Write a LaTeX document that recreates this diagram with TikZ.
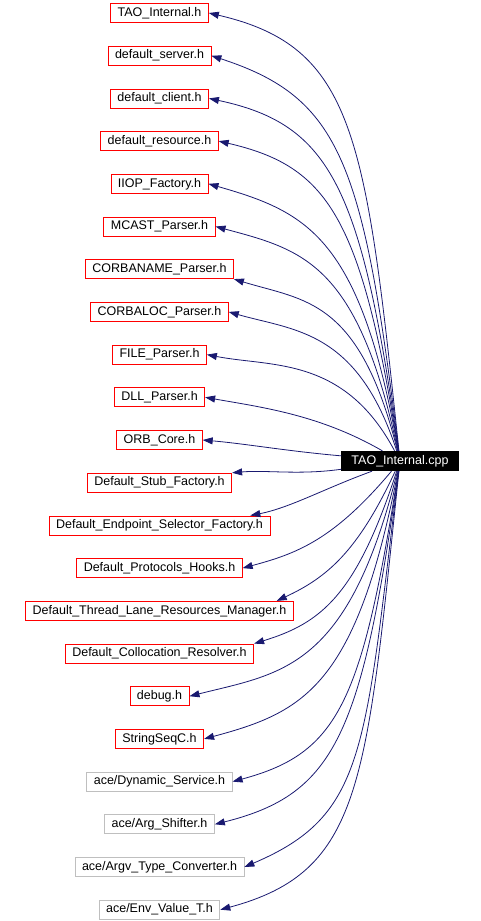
\documentclass[tikz,border=0pt]{standalone}
\usepackage{fontspec}
\setmainfont{Liberation Sans}
\usetikzlibrary{arrows.meta}
\definecolor{edgeblue}{HTML}{191970}
\definecolor{extgray}{HTML}{BFBFBF}

\begin{document}
\begin{tikzpicture}[
  x=1pt, y=1pt,
  hdr/.style={draw=red, line width=0.8pt, inner xsep=7pt, inner ysep=2pt,
              minimum height=19pt, font=\fontsize{12.5}{14}\selectfont},
  ext/.style={hdr, draw=extgray},
  src/.style={fill=black, text=white, inner xsep=10pt, inner ysep=2pt,
              minimum height=20pt, font=\fontsize{12.5}{14}\selectfont},
  dep/.style={-{Triangle[length=10pt,width=7pt]}, draw=edgeblue, line width=0.8pt,
              out looseness=1.7, in looseness=0.8}
]
\useasboundingbox (0,0) rectangle (481,-921);

%% ── Included headers (one column, left) ───────────────────────────────────────
\node[hdr] (tint)      at (159.5, -13.0)  {TAO\_Internal.h};
\node[hdr] (dserver)   at (159.5, -55.7)  {default\_server.h};
\node[hdr] (dclient)   at (159.5, -98.4)  {default\_client.h};
\node[hdr] (dresource) at (159.5, -141.1) {default\_resource.h};
\node[hdr] (iiop)      at (159.5, -183.8) {IIOP\_Factory.h};
\node[hdr] (mcast)     at (159.5, -226.5) {MCAST\_Parser.h};
\node[hdr] (cname)     at (159.5, -269.2) {CORBANAME\_Parser.h};
\node[hdr] (cloc)      at (159.5, -311.9) {CORBALOC\_Parser.h};
\node[hdr] (fileP)     at (159.5, -354.6) {FILE\_Parser.h};
\node[hdr] (dll)       at (159.5, -397.3) {DLL\_Parser.h};
\node[hdr] (orb)       at (159.5, -440.0) {ORB\_Core.h};
\node[hdr] (stub)      at (159.5, -482.7) {Default\_Stub\_Factory.h};
\node[hdr] (endpt)     at (159.5, -525.4) {Default\_Endpoint\_Selector\_Factory.h};
\node[hdr] (phooks)    at (159.5, -568.1) {Default\_Protocols\_Hooks.h};
\node[hdr] (tlane)     at (159.5, -610.8) {Default\_Thread\_Lane\_Resources\_Manager.h};
\node[hdr] (colloc)    at (159.5, -653.5) {Default\_Collocation\_Resolver.h};
\node[hdr] (dbg)       at (159.5, -696.2) {debug.h};
\node[hdr] (sseq)      at (159.5, -738.9) {StringSeqC.h};
\node[ext] (dynsvc)    at (159.5, -781.6) {ace/Dynamic\_Service.h};
\node[ext] (argsh)     at (159.5, -824.3) {ace/Arg\_Shifter.h};
\node[ext] (argv)      at (159.5, -867.0) {ace/Argv\_Type\_Converter.h};
\node[ext] (envval)    at (159.5, -909.7) {ace/Env\_Value\_T.h};

%% ── Source file ───────────────────────────────────────────────────────────────
\node[src] (cpp) at (400, -461) {TAO\_Internal.cpp};

%% ── Include edges, upper half ─────────────────────────────────────────────────
\draw[dep] (cpp) to[out=96,  in=-13] (tint.east);
\draw[dep] (cpp) to[out=97,  in=-18] (dserver.east);
\draw[dep] (cpp) to[out=98,  in=-12] (dclient.east);
\draw[dep] (cpp) to[out=99,  in=-13] (dresource.east);
\draw[dep] (cpp) to[out=100, in=-16] (iiop.east);
\draw[dep] (cpp) to[out=102, in=-15] (mcast.east);
\draw[dep] (cpp) to[out=104, in=-17] (cname.south east);
\draw[dep, out looseness=1.5] (cpp) to[out=108, in=-16] (cloc.east);
\draw[dep, out looseness=1.3] (cpp) to[out=118, in=-11] (fileP.east);
\draw[dep, out looseness=1.0] (cpp) to[out=150, in=-10] (dll.east);
\draw[dep, out looseness=1.0] (cpp) to[out=175, in=-5]  (orb.east);

%% ── Include edges, lower half ─────────────────────────────────────────────────
\draw[dep, out looseness=1.0] (cpp) to[out=188, in=5]  (stub.north east);
\draw[dep, out looseness=1.0] (cpp) to[out=200, in=11] ([xshift=-20pt]endpt.north east);
\draw[dep, out looseness=1.3] (cpp) to[out=230, in=15] (phooks.east);
\draw[dep, out looseness=1.3] (cpp) to[out=245, in=25] ([xshift=-17pt]tlane.north east);
\draw[dep, out looseness=1.5] (cpp) to[out=252, in=17] (colloc.north east);
\draw[dep] (cpp) to[out=256, in=14] (dbg.east);
\draw[dep] (cpp) to[out=259, in=15] (sseq.east);
\draw[dep] (cpp) to[out=261, in=15] (dynsvc.east);
\draw[dep] (cpp) to[out=262, in=14] (argsh.east);
\draw[dep] (cpp) to[out=263, in=23] (argv.east);
\draw[dep] (cpp) to[out=264, in=15] (envval.east);

\end{tikzpicture}
\end{document}
